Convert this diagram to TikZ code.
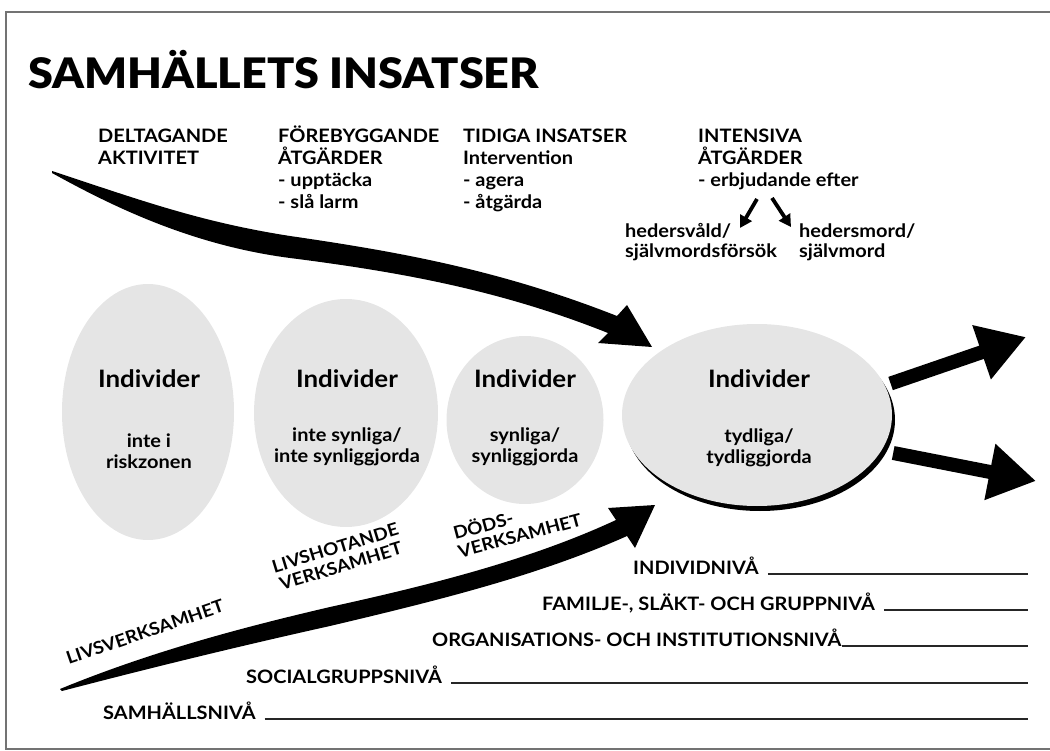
\documentclass[tikz,border=0pt]{standalone}
\usepackage{fontspec}
\usepackage{graphicx}
\setmainfont{Lato}[FakeStretch=1.08]
\newfontfamily\heavyfont{Lato Black}[FakeStretch=1.07]
\usetikzlibrary{shapes.geometric,arrows.meta,positioning}

\begin{document}
\begin{tikzpicture}[x=1pt,y=-1pt,
  txt/.style={font=\bfseries\fontsize{18.5}{22}\selectfont,inner sep=0pt,align=left,anchor=base west},
  sub/.style={font=\bfseries\fontsize{18.5}{21}\selectfont,inner sep=0pt,align=center,anchor=base},
  ind/.style={font=\bfseries\fontsize{24}{24}\selectfont,inner sep=0pt,anchor=base},
  indiv/.style={ellipse,fill=black!10,inner sep=0pt},
  niva/.style={line width=1.7pt,black!85},
  fat/.style={line width=14pt,-{Triangle[length=47pt,width=54pt]}},
  smal/.style={line width=3.8pt,-{Triangle[length=12pt,width=13pt]}},
  rot/.style={font=\bfseries\fontsize{17.5}{19}\selectfont,inner sep=0pt,align=left}]

\useasboundingbox (0,0) rectangle (1050,751);
\draw[black!55,line width=1.6pt] (1060,12) -- (6,12) -- (6,749) -- (1060,749);

\node[anchor=base west,inner sep=0pt,font=\heavyfont\fontsize{42}{42}\selectfont] (rubrik) at (28,89) {SAMHÄLLETS INSATSER};

\node[txt] (deltagande) at (98,165) {DELTAGANDE\\AKTIVITET};
\node[txt] (forebygg) at (278,209) {FÖREBYGGANDE\\ÅTGÄRDER\\- upptäcka\\- slå larm};
\node[txt] (tidiga) at (463,209) {TIDIGA INSATSER\\Intervention\\- agera\\- åtgärda};
\node[txt] (intensiva) at (698,187) {INTENSIVA\\ÅTGÄRDER\\- erbjudande efter};
\node[txt,font=\bfseries\fontsize{18.5}{20}\selectfont] (hvald) at (625,258) {hedersvåld/\\självmordsförsök};
\node[txt,font=\bfseries\fontsize{18.5}{20}\selectfont] (hmord) at (799,258) {hedersmord/\\självmord};

\coordinate (pilA) at (757,199);
\coordinate (pilB) at (740,228);
\coordinate (pilC) at (772,198);
\coordinate (pilD) at (791,227);
\draw[smal] (pilA) -- (pilB);
\draw[smal] (pilC) -- (pilD);

\fill (52,171) .. controls (140,200) and (200,222) .. (290,236) .. controls (400,252) and (500,270) .. (617,316)
  -- (627,305) -- (652,347) -- (598,343) -- (608,333)
  .. controls (500,290) and (400,272) .. (290,258) .. controls (190,245) and (110,205) .. (52,173) -- cycle;

\node[indiv,minimum width=172pt,minimum height=256pt] (riskzon) at (148,412) {};
\node[indiv,minimum width=184pt,minimum height=228pt] (osynlig) at (346,413) {};
\node[indiv,minimum width=157pt,minimum height=168pt] (synlig) at (525,420) {};
\node[ellipse,fill=black,inner sep=0pt,minimum width=270pt,minimum height=182pt] (skugga) at (760,420) {};
\node[indiv,minimum width=270pt,minimum height=182pt] (tydlig) at (757,415) {};

\node[ind] (ind1) at (149,388) {Individer};
\node[sub] (txt1) at (149,468) {inte i\\riskzonen};
\node[ind] (ind2) at (347,388) {Individer};
\node[sub] (txt2) at (347,462) {inte synliga/\\inte synliggjorda};
\node[ind] (ind3) at (525,388) {Individer};
\node[sub] (txt3) at (525,462) {synliga/\\synliggjorda};
\node[ind] (ind4) at (759,388) {Individer};
\node[sub] (txt4) at (759,463) {tydliga/\\tydliggjorda};

\coordinate (ut1) at (1026,337);
\coordinate (ut2) at (1036,481);
\draw[fat,shorten <=6pt] (tydlig.13) -- (ut1);
\draw[fat,shorten <=12pt] (tydlig.-16) -- (ut2);

\fill (60,689) .. controls (150,652) and (240,628) .. (330,607) .. controls (430,585) and (530,560) .. (616,520)
  -- (608,508) -- (655,505) -- (635,548) -- (627,536)
  .. controls (540,575) and (440,600) .. (330,626) .. controls (240,646) and (150,668) .. (62,691) -- cycle;

\node[rot,rotate=19] (livs) at (145,632) {LIVSVERKSAMHET};
\node[rot,rotate=17,align=center] (livshot) at (338,557) {LIVSHOTANDE\\VERKSAMHET};
\node[rot,rotate=15] (dods) at (517,525) {DÖDS-\\VERKSAMHET};

\coordinate (hoger) at (1028,0);
\node[txt] (niva1) at (633,574) {INDIVIDNIVÅ};
\node[txt] (niva2) at (542,610) {FAMILJE-, SLÄKT- OCH GRUPPNIVÅ};
\node[txt] (niva3) at (432,646) {ORGANISATIONS- OCH INSTITUTIONSNIVÅ};
\node[txt] (niva4) at (246,683) {SOCIALGRUPPSNIVÅ};
\node[txt] (niva5) at (103,719) {SAMHÄLLSNIVÅ};
\draw[niva] ([xshift=9pt]niva1.base east) -- (niva1.base east -| hoger);
\draw[niva] ([xshift=9pt]niva2.base east) -- (niva2.base east -| hoger);
\draw[niva] (niva3.base east) -- (niva3.base east -| hoger);
\draw[niva] ([xshift=9pt]niva4.base east) -- (niva4.base east -| hoger);
\draw[niva] ([xshift=9pt]niva5.base east) -- (niva5.base east -| hoger);

\end{tikzpicture}
\end{document}
